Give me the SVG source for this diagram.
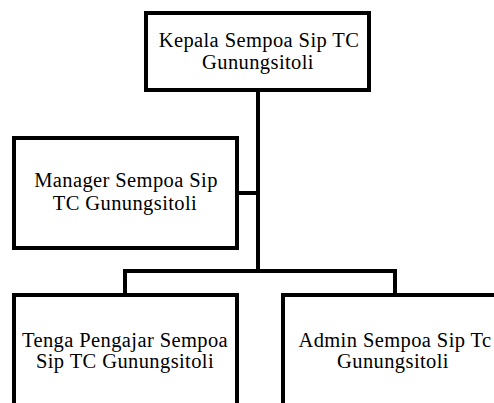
<svg xmlns="http://www.w3.org/2000/svg" width="494" height="403" viewBox="0 0 494 403">
<style>
.box{fill:#fff;stroke:#000;stroke-width:4}
.t{font-family:"Liberation Serif","Times New Roman",serif;font-size:20.5px;letter-spacing:0.4px;fill:#000;text-anchor:middle}
.c{fill:none;stroke:#000;stroke-width:4}
</style>
<rect width="494" height="403" fill="#fff"/>
<g id="connectors">
<path class="c" d="M258 90 V271"/>
<path class="c" d="M237 193 H258"/>
<path class="c" d="M125 295 V271 H395 V295"/>
</g>
<g id="kepala">
<rect class="box" x="146" y="13" width="223" height="77"/>
<text class="t" x="259" y="47">Kepala Sempoa Sip TC</text>
<text class="t" x="258" y="69">Gunungsitoli</text>
</g>
<g id="manager">
<rect class="box" x="14" y="138" width="223" height="110"/>
<text class="t" x="126" y="187">Manager Sempoa Sip</text>
<text class="t" x="125" y="210">TC Gunungsitoli</text>
</g>
<g id="tenaga">
<rect class="box" x="14" y="295" width="223" height="120"/>
<text class="t" x="125" y="347">Tenga Pengajar Sempoa</text>
<text class="t" x="125" y="368">Sip TC Gunungsitoli</text>
</g>
<g id="admin">
<rect class="box" x="283" y="295" width="223" height="120"/>
<text class="t" x="395" y="347">Admin Sempoa Sip Tc</text>
<text class="t" x="393" y="368">Gunungsitoli</text>
</g>
</svg>
